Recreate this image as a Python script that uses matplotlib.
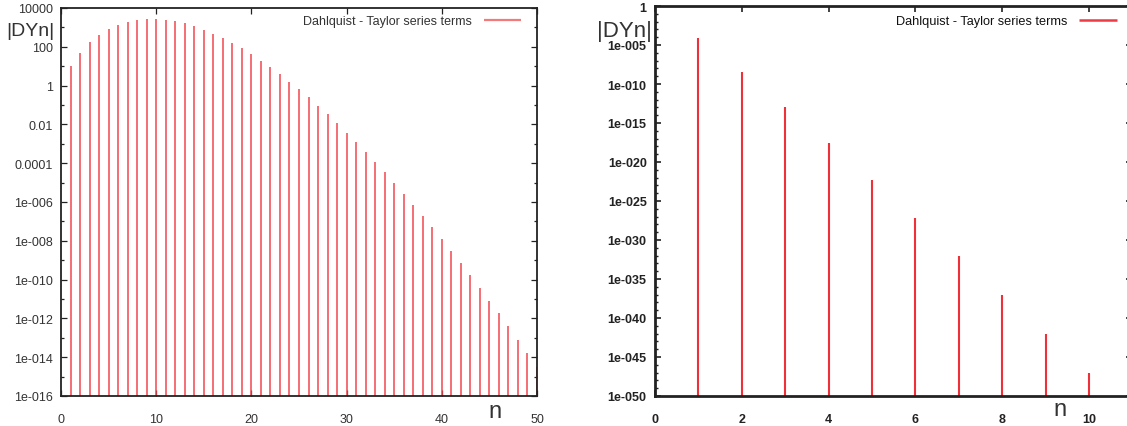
import matplotlib
matplotlib.use("Agg")
import matplotlib.pyplot as plt
from matplotlib.ticker import FixedLocator, FixedFormatter

plt.rcParams['font.family'] = ['Liberation Sans', 'DejaVu Sans']

# ---------------- data ----------------
n_left = list(range(1, 51))
dy_left = [10, 50, 166.7, 416.7, 833.3, 1388.9, 1984.1, 2480.2, 2755.7, 2755.7,
           2505.2, 2087.7, 1605.9, 1147.1, 764.7, 477.9, 281.1, 156.2, 82.2, 41.1,
           19.6, 8.89, 3.87, 1.61, 0.644, 0.248, 0.0918, 0.0328, 0.0113, 3.77e-3,
           1.22e-3, 3.80e-4, 1.15e-4, 3.39e-5, 9.69e-6, 2.69e-6, 7.27e-7, 1.91e-7, 4.90e-8, 1.22e-8,
           2.99e-9, 7.12e-10, 1.66e-10, 3.76e-11, 8.36e-12, 1.82e-12, 3.86e-13, 8.05e-14, 1.64e-14, 3.29e-15]

n_right = list(range(1, 11))
dy_right = [8.9e-5, 4.0e-9, 1.2e-13, 2.6e-18, 4.7e-23, 6.9e-28, 8.9e-33, 9.8e-38, 9.8e-43, 8.7e-48]

left_ytick_vals = [1e4, 1e2, 1e0, 1e-2, 1e-4, 1e-6, 1e-8, 1e-10, 1e-12, 1e-14, 1e-16]
left_ytick_labels = ['10000', '100', '1', '0.01', '0.0001', '1e-006', '1e-008',
                     '1e-010', '1e-012', '1e-014', '1e-016']
left_xticks = [0, 10, 20, 30, 40, 50]

right_ytick_vals = [1e0, 1e-5, 1e-10, 1e-15, 1e-20, 1e-25, 1e-30, 1e-35, 1e-40, 1e-45, 1e-50]
right_ytick_labels = ['1', '1e-005', '1e-010', '1e-015', '1e-020', '1e-025', '1e-030',
                      '1e-035', '1e-040', '1e-045', '1e-050']
right_xticks = [0, 2, 4, 6, 8, 10]

legend_label = 'Dahlquist - Taylor series terms'

# ---------------- figure ----------------
W, H = 1127, 427
fig = plt.figure(figsize=(W / 100, H / 100), dpi=100)

def px_axes(x0, x1, ytop, ybot):
    return fig.add_axes([x0 / W, 1 - ybot / H, (x1 - x0) / W, (ybot - ytop) / H])

spine_col = '#222222'
txt_col = '#333333'

# Left panel
axL = px_axes(61, 537, 9, 397)
axL.set_yscale('log')
axL.set_xlim(0, 50)
axL.set_ylim(1e-16, 1e4)
axL.vlines(n_left, 1e-16, dy_left, color='#f0464e', lw=1.1, label=legend_label)
axL.yaxis.set_major_locator(FixedLocator(left_ytick_vals))
axL.yaxis.set_major_formatter(FixedFormatter(left_ytick_labels))
axL.yaxis.set_minor_locator(FixedLocator([10.0 ** e for e in range(-15, 4, 2)]))
axL.yaxis.set_minor_formatter(FixedFormatter([]))
axL.set_xticks(left_xticks)
for s in axL.spines.values():
    s.set_color(spine_col)
    s.set_linewidth(1.3)
axL.tick_params(which='both', direction='in', top=True, right=True, colors=spine_col,
                labelcolor=txt_col, labelsize=9)
axL.tick_params(which='major', length=4.5, width=0.9)
axL.tick_params(which='minor', length=2.2, width=0.9)
axL.tick_params(axis='y', pad=6)
axL.tick_params(axis='x', pad=12)
fig.text(30 / W, 1 - 32 / H, '|DYn|', fontsize=14, color=txt_col, ha='center', va='center')
fig.text(495 / W, 1 - 412 / H, 'n', fontsize=17, color=txt_col, ha='center', va='center')
legL = axL.legend(loc='center right', bbox_to_anchor=(521 / W, 1 - 22 / H),
                  bbox_transform=fig.transFigure, frameon=False, markerfirst=False,
                  handlelength=3.0, handletextpad=0.9, borderpad=0, borderaxespad=0,
                  prop={'size': 9})
for t in legL.get_texts():
    t.set_color(txt_col)
for h in legL.legend_handles:
    h.set_color('#f27a7a')
    h.set_linewidth(1.6)

# Right panel
axR = px_axes(655, 655 + 11 * 43.4, 7, 397)
axR.set_yscale('log')
axR.set_xlim(0, 11)
axR.set_ylim(1e-50, 1e0)
axR.vlines(n_right, 1e-50, dy_right, color='#f03038', lw=1.5, label=legend_label)
axR.yaxis.set_major_locator(FixedLocator(right_ytick_vals))
axR.yaxis.set_major_formatter(FixedFormatter(right_ytick_labels))
axR.yaxis.set_minor_locator(FixedLocator([10.0 ** e for e in range(-49, 0) if e % 5 != 0]))
axR.yaxis.set_minor_formatter(FixedFormatter([]))
axR.set_xticks(right_xticks)
for s in axR.spines.values():
    s.set_color(spine_col)
    s.set_linewidth(2.0)
axR.tick_params(which='both', direction='in', top=True, right=True, colors=spine_col,
                labelcolor='#222222', labelsize=9)
axR.tick_params(which='major', length=4.5, width=1.2)
axR.tick_params(which='minor', length=2.2, width=1.0)
axR.tick_params(axis='y', pad=6)
axR.tick_params(axis='x', pad=12)
for lab in axR.get_xticklabels() + axR.get_yticklabels():
    lab.set_fontweight('bold')
fig.text(624 / W, 1 - 31 / H, '|DYn|', fontsize=16, color=txt_col, ha='center', va='center')
fig.text(1060 / W, 1 - 410 / H, 'n', fontsize=17, color=txt_col, ha='center', va='center')
legR = axR.legend(loc='center right', bbox_to_anchor=(1117 / W, 1 - 22 / H),
                  bbox_transform=fig.transFigure, frameon=False, markerfirst=False,
                  handlelength=3.0, handletextpad=0.9, borderpad=0, borderaxespad=0,
                  prop={'size': 9.2})
for t in legR.get_texts():
    t.set_color('#111111')
for h in legR.legend_handles:
    h.set_color('#ee3a44')
    h.set_linewidth(1.8)

fig.savefig('out.png', dpi=100)
